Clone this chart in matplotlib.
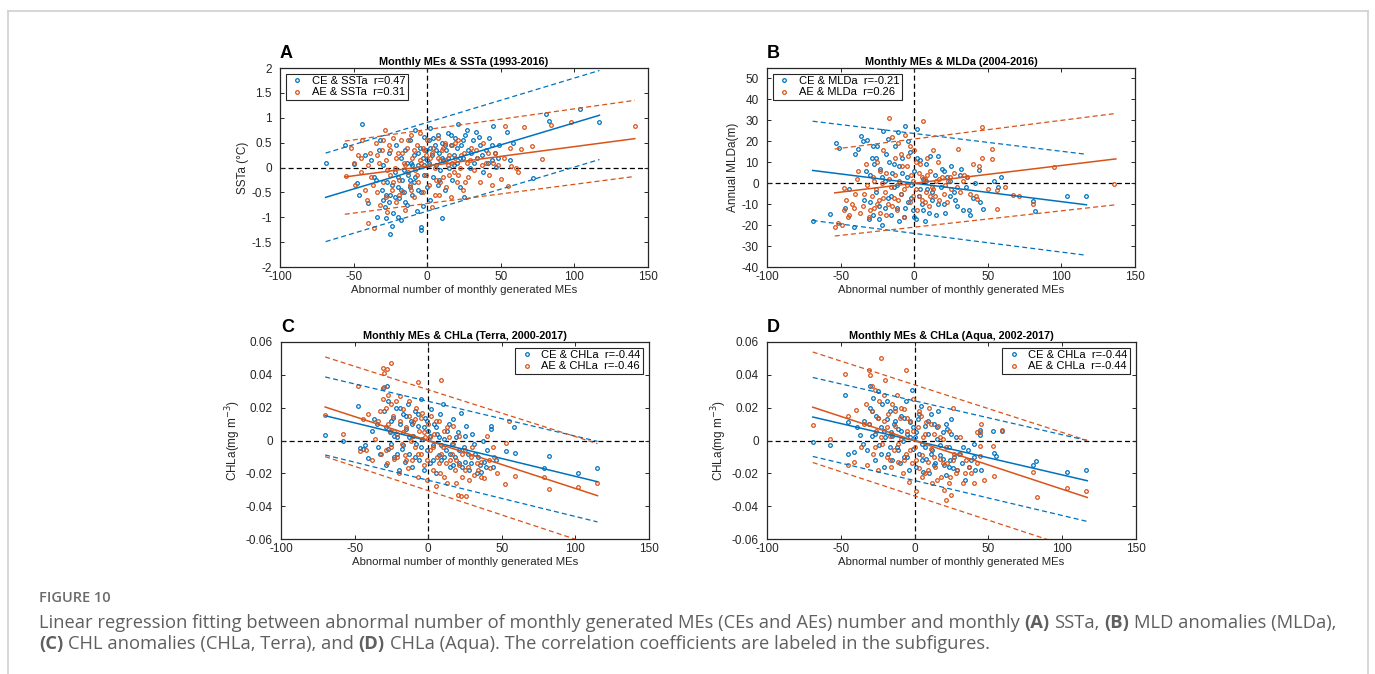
import matplotlib
matplotlib.use('Agg')
import matplotlib.pyplot as plt
import numpy as np
from matplotlib.lines import Line2D
from matplotlib.ticker import FuncFormatter

plt.rcParams['font.family'] = ['Liberation Sans', 'DejaVu Sans']
plt.rcParams['axes.unicode_minus'] = False

BLUE = '#0072BD'
ORANGE = '#D95319'

# ---- data (x = abnormal number of monthly MEs) ----
# panel A: SSTa
ce_ssta = [(-69,0.10),(-56,0.45),(-50,0.08),(-48,-0.31),(-46,-0.55),(-44,0.88),(-42,0.25),(-40,-0.71),
           (-38,0.15),(-36,-0.20),(-34,-1.00),(-33,0.35),(-31,-0.45),(-30,0.05),(-29,-0.80),(-28,-1.02),
           (-27,-0.30),(-26,0.30),(-25,-1.33),(-25,-0.55),(-24,-1.18),(-23,-0.92),(-22,-0.10),(-21,0.45),
           (-20,-0.40),(-19,-0.62),(-18,-1.05),(-18,0.20),(-17,-0.25),(-16,-0.50),(-15,0.35),(-14,-0.75),
           (-13,-0.15),(-12,0.55),(-12,-0.40),(-11,0.10),(-10,-0.55),(-9,0.25),(-9,-0.30),(-8,0.75),
           (-7,-0.88),(-6,0.05),(-6,-0.45),(-5,0.40),(-4,-1.20),(-4,-1.25),(-3,-0.78),(-3,0.20),(-2,0.62),
           (-2,-0.15),(-1,0.35),(0,-0.40),(1,0.10),(1,0.55),(2,-0.65),(2,0.80),(3,0.25),(4,-0.20),(5,0.45),
           (6,0.05),(7,0.65),(7,-0.35),(8,0.30),(9,-0.05),(10,-1.02),(10,0.50),(11,0.15),(12,-0.45),
           (13,0.35),(14,0.70),(15,0.00),(16,0.45),(17,-0.25),(18,0.25),(19,0.60),(20,0.10),(21,0.88),
           (22,-0.40),(23,0.45),(24,0.20),(25,-0.60),(26,0.65),(28,0.35),(29,0.00),(31,0.55),(33,0.72),
           (34,0.20),(36,0.45),(38,-0.10),(40,0.35),(42,0.60),(44,0.15),(45,0.84),(46,0.30),(47,0.02),
           (49,0.45),(54,0.72),(56,0.15),(58,0.50),(72,-0.21),(81,1.08),(83,0.94),(104,1.18),(117,0.92),
           (-28,-0.55),(-26,-0.70),(-24,-0.35),(-22,-0.60),(-20,-0.20),(-18,-0.45),(-16,-0.05),(-14,0.10),
           (-12,-0.25),(-10,0.05),(-8,-0.20),(-6,0.30),(-4,-0.50),(-2,0.05),(0,0.15),(2,0.40),(4,0.60),
           (6,0.35),(8,-0.25),(10,0.20),(12,0.45),(14,0.20),(16,0.65),(18,0.05),(20,0.40),(22,0.20),
           (24,0.55),(27,0.75),(30,0.30),(32,0.10),(35,0.62),(37,0.25),(41,0.10),(44,0.45),(48,0.20),
           (-35,-0.25),(-32,0.55),(-30,-0.65),(-20,-1.00),(-15,-0.70)]
ae_ssta = [(-55,-0.18),(-52,0.40),(-50,0.10),(-49,-0.35),(-47,0.25),(-45,-0.10),(-44,0.55),(-42,-0.45),
           (-41,-0.65),(-40,-1.11),(-39,0.30),(-38,-0.20),(-36,-1.21),(-35,0.50),(-34,-0.50),(-33,0.10),
           (-32,-0.75),(-31,0.35),(-30,-0.30),(-29,0.76),(-28,-0.60),(-28,0.15),(-27,-0.90),(-26,0.45),
           (-25,-0.15),(-24,-0.45),(-23,0.60),(-22,0.00),(-21,-0.70),(-20,0.30),(-19,-0.25),(-18,0.55),
           (-17,-0.50),(-16,0.10),(-15,-0.85),(-14,0.40),(-13,-0.10),(-12,-0.35),(-11,0.65),(-10,0.20),
           (-9,-0.60),(-8,-0.05),(-7,0.45),(-6,-0.30),(-5,0.70),(-4,0.10),(-3,-0.50),(-2,0.35),(-1,-0.15),
           (0,0.55),(1,-0.35),(2,0.20),(3,-0.80),(4,0.40),(5,0.00),(6,-0.25),(7,0.60),(8,-0.55),(9,0.15),
           (10,0.35),(11,-0.20),(12,0.50),(13,-0.40),(14,0.05),(15,0.25),(16,-0.60),(17,0.45),(18,-0.10),
           (19,0.20),(20,-0.30),(21,0.55),(22,0.00),(24,-0.45),(25,0.30),(27,0.10),(28,-0.20),(30,0.40),
           (32,-0.05),(34,0.20),(36,-0.30),(38,0.50),(40,0.10),(42,-0.15),(44,-0.35),(46,0.30),(48,0.05),
           (50,-0.24),(53,0.84),(55,-0.37),(57,0.03),(60,0.00),(64,0.37),(66,0.82),(71,0.43),(78,0.17),
           (84,0.86),(98,0.92),(141,0.83),
           (-45,0.20),(-40,0.05),(-37,-0.35),(-34,0.25),(-30,0.55),(-27,-0.05),(-25,0.35),(-23,-0.30),
           (-21,0.20),(-19,-0.55),(-17,0.30),(-15,0.05),(-13,0.55),(-11,-0.45),(-9,0.35),(-7,-0.15),
           (-5,0.15),(-3,0.40),(-1,0.25),(1,0.05),(3,0.30),(5,-0.55),(7,0.20),(9,-0.30),(11,0.40),
           (13,0.15),(15,-0.15),(17,0.10),(19,0.50),(21,-0.15),(23,0.25),(26,-0.30),(29,0.15),(33,0.35),
           (37,0.05),(41,0.30),(45,0.10),(52,0.20),(56,0.40),(62,-0.10)]

# panel B: MLDa
ce_mlda = [(-69,-18.0),(-57,-14.6),(-53,19.0),(-51,16.7),(-47,-12),(-44,-3),(-41,-20.7),(-40,13.8),
           (-38,16.1),(-36,22.3),(-35,20.3),(-34,-8),(-32,20.6),(-31,-17),(-30,4),(-29,12),(-28,-15),
           (-27,9),(-26,-4),(-25,18),(-24,-11),(-23,7),(-22,-20),(-21,25.1),(-20,1),(-19,14),(-18,-7),
           (-17,10),(-16,-15),(-15,5),(-14,-2),(-13,18),(-12,-12),(-11,24.3),(-10,8),(-9,-5),(-8,12),
           (-7,-16),(-6,27.5),(-5,3),(-4,-9),(-3,15),(-2,-1),(-1,-13),(0,6),(1,-17),(2,25.9),(3,-6),
           (4,11),(5,-10),(6,2),(7,-18),(8,9),(9,-3),(10,-14),(11,13),(12,-8),(14,4),(15,-15),(16,13),
           (18,-2),(19,7),(20,-10),(21,-14),(22,3),(24,-6),(25,8),(27,-4),(29,-11),(31,4),(33,-13),
           (35,-2),(37,-12.7),(38,-15),(40,-7),(41,0),(44,6.1),(45,-9),(47,-12.5),(54,1.0),(57,-2),
           (59,2.9),(81,-8.4),(82,-13.2),(104,-5.9),(117,-6.3),
           (-33,6),(-30,-9),(-28,18),(-26,12),(-24,-17),(-22,3),(-20,-12),(-18,21),(-16,-6),(-14,9),
           (-12,-1),(-10,-18),(-8,5),(-6,-12),(-4,20),(-2,-7),(0,-16),(2,12),(4,-3),(6,-13),(8,1),
           (12,-4),(16,-10),(20,6),(24,1),(28,-8),(32,7),(36,3)]
ae_mlda = [(-54,-20.7),(-52,-19.1),(-49,-19.9),(-48,-12.7),(-48,-2.3),(-46,-8),(-44,-15),(-42,-10),
           (-40,-5),(-39,2),(-37,-14),(-35,-11),(-33,9),(-32,-1),(-31,-16),(-29,-6),(-28,3),(-27,-12),
           (-26,-3),(-25,10),(-24,-8),(-23,-14),(-22,0),(-21,16),(-20,-4),(-19,5),(-18,-10),(-17,31.0),
           (-16,-2),(-15,22),(-14,-7),(-13,12),(-12,-13),(-11,19),(-10,1),(-9,-5),(-8,8),(-7,-16),
           (-6,23),(-5,-1),(-4,13),(-3,-9),(-2,4),(-1,-6),(0,16),(1,-3),(2,-13),(3,5),(4,9),(5,-8),
           (6,29.9),(7,2),(8,-4),(9,12),(10,-11),(11,6),(12,-2),(13,16),(14,-6),(15,1),(16,10),(17,-8),
           (19,3),(20,-5),(22,-9),(23,1),(25,-3),(27,5),(30,16.2),(31,-4),(33,1),(36,3),(38,-5),(40,9),
           (43,-7.4),(44,8),(46,26.7),(46,12),(50,-3),(53,16.2),(53,11.4),(56,-3.1),(56,-12.2),(62,-2.0),
           (67,-5.5),(71,-6),(81,-10),(95,7.7),(136,-0.2),
           (-45,-16),(-41,-12),(-38,6),(-34,-5),(-30,-13),(-27,1),(-25,-10),(-23,6),(-21,-7),(-19,-15),
           (-17,2),(-15,-11),(-13,4),(-11,-8),(-9,14),(-7,-3),(-5,8),(-3,18),(-1,1),(1,10),(3,-6),
           (5,3),(7,-9),(9,4),(11,-6),(13,-3),(17,2),(21,-1),(24,3),(29,-2),(34,4),(42,-6)]

# panel C: CHLa (Terra)
ce_chl_terra = [(-70,0.0036),(-58,-0.0005),(-48,0.0212),(-46,-0.0046),(-43,-0.003),(-41,-0.0107),(-38,0.006),
                (-35,0.010),(-33,-0.008),(-31,0.0322),(-30,0.018),(-29,-0.015),(-28,0.0334),(-27,0.024),
                (-26,0.005),(-25,-0.002),(-24,0.014),(-23,-0.010),(-22,0.020),(-21,0.002),(-20,-0.018),
                (-19,0.010),(-18,-0.005),(-17,0.016),(-16,-0.013),(-15,0.007),(-14,0.022),(-13,-0.008),
                (-12,0.012),(-11,-0.016),(-10,0.003),(-9,0.018),(-8,-0.002),(-7,0.009),(-6,-0.012),
                (-5,0.025),(-4,0.001),(-3,-0.018),(-2,0.014),(-1,-0.006),(0,0.006),(1,-0.014),(2,0.019),
                (3,-0.003),(4,0.010),(5,-0.020),(6,0.004),(7,-0.009),(8,0.016),(9,-0.012),(10,0.022),
                (11,0.001),(12,-0.006),(14,0.010),(15,-0.016),(16,-0.002),(17,0.013),(18,-0.010),(20,0.005),
                (21,-0.014),(22,0.017),(24,-0.004),(25,-0.013),(26,0.009),(28,-0.018),(30,0.004),
                (32,-0.008),(33,-0.020),(35,-0.015),(37,0.000),(38,-0.013),(40,-0.006),(43,0.0086),
                (43,0.007),(44,-0.016),(46,-0.012),(53,-0.0067),(58,0.0082),(59,-0.0076),(79,-0.0168),
                (82,-0.0097),(102,-0.0198),(115,-0.0167),
                (-29,0.008),(-27,-0.005),(-25,0.012),(-23,0.003),(-21,-0.008),(-19,0.020),(-17,-0.003),
                (-15,0.015),(-13,0.002),(-11,0.010),(-9,-0.010),(-7,0.016),(-5,-0.004),(-3,0.008),
                (-1,0.012),(1,0.003),(3,-0.012),(5,0.008),(7,0.002),(9,-0.003),(11,-0.010),(13,0.006),
                (15,-0.008),(17,-0.015),(19,0.002),(21,-0.006),(23,-0.016),(25,0.003),(27,-0.008),
                (29,-0.014),(31,-0.002),(34,-0.010),(36,-0.019),(39,-0.016),(-34,-0.004),(-37,0.013),
                (-44,-0.005)]
ae_chl_terra = [(-70,0.0157),(-58,0.0037),(-48,0.0334),(-46,-0.0066),(-44,0.013),(-42,-0.0056),(-41,0.0163),
                (-38,-0.012),(-36,0.001),(-34,0.012),(-32,-0.008),(-31,0.044),(-30,0.041),(-30,0.0326),
                (-29,0.020),(-28,0.0435),(-28,-0.014),(-27,0.028),(-26,0.006),(-25,0.047),(-25,-0.004),
                (-24,0.015),(-23,-0.011),(-22,0.024),(-21,0.004),(-20,-0.020),(-19,0.012),(-18,-0.002),
                (-17,0.019),(-16,-0.009),(-15,0.008),(-14,-0.017),(-13,0.015),(-12,0.000),(-11,-0.012),
                (-10,0.011),(-9,-0.004),(-8,0.020),(-7,-0.022),(-7,0.0356),(-6,0.006),(-5,-0.008),
                (-4,0.017),(-3,-0.015),(-2,0.002),(-1,-0.024),(0,0.010),(1,-0.006),(2,0.015),(3,-0.018),
                (4,0.004),(5,-0.028),(6,-0.010),(7,0.012),(8,-0.020),(9,0.037),(10,-0.004),(11,0.006),
                (12,-0.014),(13,-0.026),(14,0.002),(16,-0.008),(17,0.009),(18,-0.018),(19,-0.012),
                (20,-0.033),(21,0.003),(22,-0.034),(23,-0.022),(25,-0.006),(26,-0.034),(27,-0.016),
                (29,-0.010),(31,-0.021),(34,-0.018),(36,-0.013),(38,-0.023),(40,0.003),(42,-0.017),
                (45,-0.010),(47,-0.020),(52,-0.0263),(53,-0.0015),(55,0.012),(59,-0.0214),(79,-0.0224),
                (82,-0.0293),(102,-0.0285),(115,-0.026),
                (-33,0.018),(-31,0.025),(-29,-0.006),(-27,0.010),(-25,0.022),(-23,0.006),(-21,-0.010),
                (-19,0.027),(-17,0.005),(-15,-0.012),(-13,0.024),(-11,0.003),(-9,0.013),(-7,-0.008),
                (-5,0.014),(-3,0.005),(-1,-0.012),(1,0.002),(3,-0.004),(5,0.012),(7,-0.014),(9,-0.008),
                (11,-0.022),(13,0.008),(15,-0.012),(17,-0.002),(19,-0.026),(21,-0.015),(23,-0.008),
                (25,-0.018),(28,-0.024),(30,-0.004),(33,-0.014),(36,-0.022),(41,-0.012),(44,-0.004)]

# panel D: CHLa (Aqua)
ce_chl_aqua = [(-69,-0.0011),(-57,-0.0025),(-47,0.0279),(-45,0.011),(-45,-0.0082),(-41,-0.0072),(-37,0.0036),
               (-34,0.012),(-32,-0.006),(-30,0.033),(-30,0.020),(-29,0.003),(-28,0.026),(-27,-0.012),
               (-26,0.015),(-25,0.030),(-24,-0.003),(-23,0.008),(-22,0.022),(-21,-0.016),(-20,0.002),
               (-19,0.013),(-18,-0.008),(-17,0.018),(-16,0.005),(-15,-0.012),(-14,0.010),(-13,0.020),
               (-12,-0.004),(-11,0.007),(-10,-0.014),(-9,0.015),(-8,0.000),(-7,-0.010),(-6,0.024),
               (-5,0.004),(-4,-0.018),(-3,0.011),(-2,0.031),(-1,-0.005),(0,0.002),(1,-0.016),(2,0.013),
               (3,-0.008),(4,0.021),(5,-0.002),(6,-0.019),(7,0.009),(8,-0.011),(9,0.004),(10,-0.020),
               (11,0.016),(12,-0.006),(13,0.010),(14,-0.014),(15,0.001),(16,0.018),(17,-0.009),(19,0.005),
               (20,-0.015),(21,-0.021),(22,0.007),(23,-0.004),(24,-0.012),(25,0.013),(26,-0.017),
               (28,0.002),(30,-0.008),(32,-0.014),(34,-0.024),(36,-0.006),(38,-0.012),(40,-0.002),
               (41,-0.018),(44,0.0062),(44,0.0036),(45,-0.0178),(53,0.0056),(54,-0.0076),(55,-0.0096),
               (59,0.0057),(80,-0.0147),(82,-0.0127),(103,-0.0192),(116,-0.0178),
               (-31,0.010),(-29,0.018),(-27,0.004),(-25,0.014),(-23,-0.008),(-21,0.006),(-19,0.024),
               (-17,-0.004),(-15,0.003),(-13,0.012),(-11,-0.006),(-9,0.006),(-7,0.014),(-5,-0.010),
               (-3,0.002),(-1,0.008),(1,0.005),(3,0.016),(5,-0.012),(7,-0.004),(9,0.012),(11,-0.008),
               (13,-0.015),(15,0.008),(17,-0.003),(19,-0.011),(21,0.010),(23,-0.016),(25,0.004),
               (27,-0.010),(29,-0.018),(33,-0.004),(37,-0.016),(40,-0.010),(-35,-0.002),(-39,0.008)]
ae_chl_aqua = [(-69,0.0096),(-57,0.001),(-47,0.0405),(-45,0.0147),(-45,-0.0147),(-41,-0.0133),(-40,0.0188),
               (-36,-0.004),(-34,0.010),(-32,-0.015),(-31,0.043),(-30,0.040),(-29,0.018),(-28,-0.008),
               (-27,0.031),(-26,0.006),(-25,-0.018),(-24,0.024),(-23,0.0503),(-22,-0.002),(-21,0.012),
               (-20,0.0366),(-19,-0.010),(-18,0.016),(-17,0.003),(-16,-0.016),(-15,0.022),(-14,-0.006),
               (-13,0.009),(-12,0.028),(-11,-0.013),(-10,0.014),(-9,0.001),(-8,-0.020),(-7,0.019),
               (-6,0.0427),(-6,-0.008),(-5,0.006),(-4,-0.025),(-3,0.012),(-2,-0.014),(-1,0.025),(0,-0.004),
               (1,-0.031),(2,0.008),(3,-0.017),(4,0.015),(5,-0.009),(6,0.002),(7,-0.020),(8,0.011),
               (9,-0.013),(10,0.020),(11,-0.005),(12,-0.026),(13,0.004),(14,-0.016),(16,0.009),(17,-0.011),
               (18,-0.022),(19,0.001),(20,-0.030),(21,-0.036),(22,-0.014),(23,0.006),(24,-0.022),
               (25,-0.033),(26,0.020),(27,-0.008),(29,-0.018),(31,0.002),(33,-0.026),(35,-0.012),
               (38,-0.020),(40,-0.026),(42,0.005),(44,0.005),(44,-0.0036),(44,-0.0097),(47,-0.024),
               (53,-0.0036),(54,-0.0218),(59,0.0066),(80,-0.0194),(83,-0.0344),(103,-0.0289),(116,-0.0309),
               (-33,0.022),(-31,0.010),(-29,0.033),(-27,-0.004),(-25,0.014),(-23,0.002),(-21,0.028),
               (-19,0.008),(-17,-0.012),(-15,0.004),(-13,0.018),(-11,-0.002),(-9,0.020),(-7,-0.012),
               (-5,0.014),(-3,-0.006),(-1,0.006),(1,-0.012),(3,0.018),(5,-0.022),(7,0.004),(9,-0.018),
               (11,0.010),(13,-0.010),(15,-0.024),(17,0.002),(19,-0.014),(21,-0.004),(23,-0.026),
               (26,-0.012),(28,-0.020),(31,-0.008),(34,-0.020),(37,-0.016),(42,-0.014),(45,0.010)]

# regression lines and prediction bounds (end points): x, fit, upper, lower
ce_ssta_fit = ([-69, 117], [-0.60, 1.05], [0.29, 1.95], [-1.49, 0.16])
ae_ssta_fit = ([-56, 141], [-0.19, 0.58], [0.53, 1.35], [-0.94, -0.18])
ce_mlda_fit = ([-69, 117], [6.1, -10.3], [29.6, 13.8], [-17.8, -34.4])
ae_mlda_fit = ([-54, 137], [-4.6, 11.6], [16.3, 33.3], [-25.2, -10.3])
ce_terra_fit = ([-70, 115], [0.0151, -0.0251], [0.0387, -0.0005], [-0.0088, -0.0496])
ae_terra_fit = ([-70, 115], [0.0204, -0.0336], [0.0509, -0.0019], [-0.0098, -0.0646])
ce_aqua_fit = ([-69, 117], [0.0143, -0.0245], [0.0384, 0.0], [-0.0097, -0.0493])
ae_aqua_fit = ([-69, 117], [0.0203, -0.0347], [0.0539, 0.0], [-0.0134, -0.0683])

titles = ['Monthly MEs & SSTa (1993-2016)', 'Monthly MEs & MLDa (2004-2016)',
          'Monthly MEs & CHLa (Terra, 2000-2017)', 'Monthly MEs & CHLa (Aqua, 2002-2017)']
ylabels = ['SSTa (\u00b0C)', 'Annual MLDa(m)', 'CHLa(mg m$^{-3}$)', 'CHLa(mg m$^{-3}$)']
legend_labels = [('CE & SSTa  r=0.47', 'AE & SSTa  r=0.31'),
                 ('CE & MLDa  r=-0.21', 'AE & MLDa  r=0.26'),
                 ('CE & CHLa  r=-0.44', 'AE & CHLa  r=-0.46'),
                 ('CE & CHLa  r=-0.44', 'AE & CHLa  r=-0.44')]
letters = ['A', 'B', 'C', 'D']

fig = plt.figure(figsize=(13.75, 6.74), dpi=100)
W, H = 1375, 674

# outer frame of the page
for xs, ys in [([8, 8], [11, H + 5]), ([8, 1368], [11, 11]), ([1368, 1368], [11, H + 5])]:
    fig.add_artist(Line2D(np.array(xs) / W, 1 - np.array(ys) / H, color='#cfcfcf', lw=1.2))

# axes boxes in pixels: left, top, right, bottom
boxes = [(280, 68, 648, 267), (767, 68, 1135, 267), (281, 342, 649, 539), (767, 342, 1136, 539)]

panels = [
    (ce_ssta, ae_ssta, ce_ssta_fit, ae_ssta_fit, (-2, 2), np.arange(-2, 2.01, 0.5), 'upper left'),
    (ce_mlda, ae_mlda, ce_mlda_fit, ae_mlda_fit, (-40, 55), np.arange(-40, 51, 10), 'upper left'),
    (ce_chl_terra, ae_chl_terra, ce_terra_fit, ae_terra_fit, (-0.06, 0.06), np.arange(-0.06, 0.061, 0.02), 'upper right'),
    (ce_chl_aqua, ae_chl_aqua, ce_aqua_fit, ae_aqua_fit, (-0.06, 0.06), np.arange(-0.06, 0.061, 0.02), 'upper right'),
]

dash = (0, (4, 2.5))
for i, (ce, ae, cfit, afit, ylim, yticks, loc) in enumerate(panels):
    l, t, r, b = boxes[i]
    ax = fig.add_axes([l / W, 1 - b / H, (r - l) / W, (b - t) / H])
    ce = np.array(ce).T
    ae = np.array(ae).T
    ax.axhline(0, color='k', ls=dash, lw=0.9, zorder=1)
    ax.axvline(0, color='k', ls=dash, lw=0.9, zorder=1)
    h1, = ax.plot(ce[0], ce[1], 'o', ms=2.6, mfc='none', mec=BLUE, mew=0.9, zorder=2)
    h2, = ax.plot(ae[0], ae[1], 'o', ms=2.6, mfc='none', mec=ORANGE, mew=0.9, zorder=2)
    for fit, c in [(cfit, BLUE), (afit, ORANGE)]:
        fx, fy, fu, fl = fit
        ax.plot(fx, fy, color=c, lw=1.1, zorder=3)
        ax.plot(fx, fu, color=c, lw=0.9, ls=dash, zorder=3)
        ax.plot(fx, fl, color=c, lw=0.9, ls=dash, zorder=3)
    ax.set_xlim(-100, 150)
    ax.set_ylim(*ylim)
    ax.set_xticks(np.arange(-100, 151, 50))
    ax.set_yticks(yticks)
    ax.yaxis.set_major_formatter(FuncFormatter(lambda v, p: '%g' % round(v, 4)))
    ax.tick_params(direction='in', length=3, width=0.7, top=True, right=True,
                   labelsize=8.5, colors='#262626')
    ax.tick_params(axis='x', pad=3)
    ax.tick_params(axis='y', pad=6)
    for s in ax.spines.values():
        s.set_color('#262626')
        s.set_linewidth(0.9)
    ax.set_xlabel('Abnormal number of monthly generated MEs', fontsize=8.2, color='#262626', labelpad=1)
    ax.set_ylabel(ylabels[i], fontsize=8.5, color='#262626', labelpad=2)
    ax.set_title(titles[i], fontsize=7.8, fontweight='bold', pad=2)
    leg = ax.legend([h1, h2], legend_labels[i], loc=loc, fontsize=8, frameon=True, fancybox=False,
                    framealpha=1, edgecolor='#262626', handlelength=1.6, handletextpad=0.5,
                    borderpad=0.25, labelspacing=0.1, borderaxespad=0.5, markerscale=1.0)
    leg.get_frame().set_linewidth(0.8)
    fig.text(l / W, 1 - (t - 14) / H, letters[i], fontsize=13, fontweight='bold', va='center', ha='left')

# caption
fig.text(39 / W, 1 - 598 / H, 'FIGURE 10', fontsize=10.5, color='#6b6b6b', family='Open Sans',
         fontweight='semibold', va='center')

renderer = fig.canvas.get_renderer()
CAP_FAMILY = 'Open Sans'
CAP_COLOR = '#5f5f5f'


def text_width(s, bold, size):
    t = fig.text(0, 0, s, fontweight='bold' if bold else 'normal', fontsize=size, family=CAP_FAMILY)
    w = t.get_window_extent(renderer).width
    t.remove()
    return w


line1 = [('Linear regression fitting between abnormal number of monthly generated MEs (CEs and AEs) number and monthly', False),
         ('(A)', True), ('SSTa,', False), ('(B)', True), ('MLD anomalies (MLDa),', False)]
line2 = [('(C)', True), ('CHL anomalies (CHLa, Terra), and', False), ('(D)', True),
         ('CHLa (Aqua). The correlation coefficients are labeled in the subfigures.', False)]

# pick the size so that the first caption line spans the same width as in the figure
sp12 = text_width('a a', False, 12) - text_width('aa', False, 12)
w12 = sum(text_width(s, bd, 12) for s, bd in line1) + sp12 * (len(line1) - 1)
cap_size = 12 * 1290 / w12
space_w = text_width('a a', False, cap_size) - text_width('aa', False, cap_size)


def rich_line(x_px, y_px, parts):
    x = x_px
    for s, bold in parts:
        t = fig.text(x / W, 1 - y_px / H, s, fontweight='bold' if bold else 'normal', fontsize=cap_size,
                     family=CAP_FAMILY, color=CAP_COLOR, va='baseline')
        x += t.get_window_extent(renderer).width + space_w


rich_line(39, 628, line1)
rich_line(39, 649, line2)

fig.savefig('out.png', dpi=100)
